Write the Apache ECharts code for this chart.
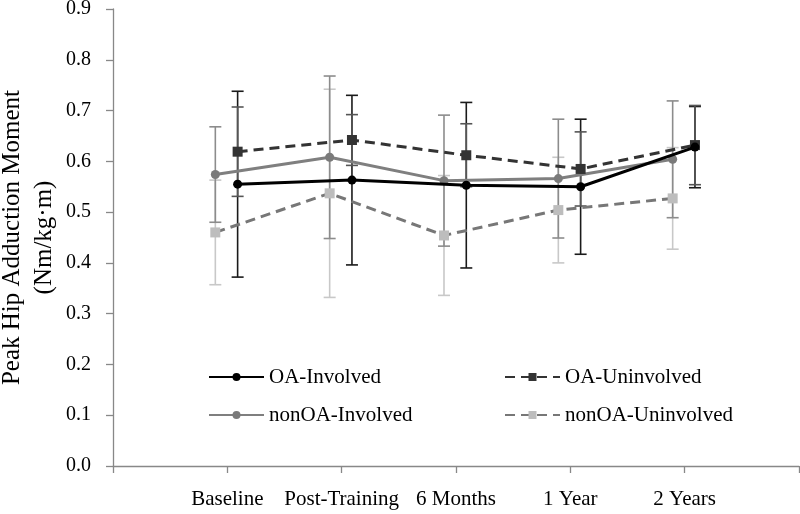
<!DOCTYPE html>
<html><head><meta charset="utf-8">
<script src="https://cdn.jsdelivr.net/npm/echarts@6/dist/echarts.min.js"></script>
<style>html,body{margin:0;padding:0;background:#fff}#c{width:800px;height:514px}</style>
</head><body><div id="c"></div>
<script>
const categories = ['Baseline', 'Post-Training', '6 Months', '1 Year', '2 Years'];
const oaInvolved = [0.555, 0.563, 0.553, 0.550, 0.628];
const oaInvolvedSD = [0.183, 0.167, 0.163, 0.133, 0.080];
const oaUninvolved = [0.619, 0.642, 0.612, 0.585, 0.632];
const oaUninvolvedSD = [0.088, 0.050, 0.062, 0.073, 0.078];
const nonOaInvolved = [0.574, 0.608, 0.562, 0.566, 0.604];
const nonOaInvolvedSD = [0.094, 0.160, 0.129, 0.117, 0.115];
const nonOaUninvolved = [0.460, 0.537, 0.454, 0.504, 0.527];
const nonOaUninvolvedSD = [0.103, 0.205, 0.118, 0.104, 0.100];
const yTicks = [0, 0.1, 0.2, 0.3, 0.4, 0.5, 0.6, 0.7, 0.8, 0.9];

const FONT = 'Liberation Serif';
const OA_OFF = 0.09, NON_OFF = -0.105;

function pts(vals, off) { return vals.map((v, i) => [i + 1 + off, v]); }
function errs(vals, sd, off) { return vals.map((v, i) => [i + 1 + off, v - sd[i], v + sd[i]]); }
function errRender(color) {
  return function (params, api) {
    const x = api.value(0), lo = api.value(1), hi = api.value(2);
    const a = api.coord([x, lo]), b = api.coord([x, hi]);
    const hw = 6;
    const st = { stroke: color, lineWidth: 1.6 };
    return { type: 'group', children: [
      { type: 'line', shape: { x1: a[0], y1: a[1], x2: b[0], y2: b[1] }, style: st },
      { type: 'line', shape: { x1: a[0] - hw, y1: a[1], x2: a[0] + hw, y2: a[1] }, style: st },
      { type: 'line', shape: { x1: b[0] - hw, y1: b[1], x2: b[0] + hw, y2: b[1] }, style: st }
    ]};
  };
}
function errSeries(name, vals, sd, off, color) {
  return { name: name, type: 'custom', renderItem: errRender(color), data: errs(vals, sd, off),
    encode: { x: 0, y: [1, 2] }, z: 1, silent: true };
}

const chart = echarts.init(document.getElementById('c'));
const legendText = { fontFamily: FONT, fontSize: 21, color: '#000', lineHeight: 21 };
chart.setOption({
  animation: false,
  backgroundColor: '#fff',
  grid: { left: 113, right: 1, top: 9, bottom: 48, containLabel: false, outerBoundsMode: 'none' },
  xAxis: {
    type: 'value', min: 0, max: 6, interval: 1,
    axisLine: { lineStyle: { color: '#888', width: 1.3 } },
    axisTick: { show: true, length: 7, lineStyle: { color: '#888', width: 1.3 } },
    splitLine: { show: false },
    axisLabel: { margin: 23, fontFamily: FONT, fontSize: 21, color: '#000',
      formatter: v => (v >= 1 && v <= categories.length ? categories[v - 1] : '') }
  },
  yAxis: {
    type: 'value', min: yTicks[0], max: yTicks[yTicks.length - 1], interval: 0.1,
    name: 'Peak Hip Adduction Moment\n(Nm/kg·m)', nameLocation: 'middle', nameGap: 53,
    nameMoveOverlap: false,
    nameTextStyle: { fontFamily: FONT, fontSize: 25, lineHeight: 32, color: '#000' },
    axisLine: { show: true, lineStyle: { color: '#888', width: 1.3 } },
    axisTick: { show: true, length: 7, lineStyle: { color: '#888', width: 1.3 } },
    splitLine: { show: false },
    axisLabel: { margin: 22, fontFamily: FONT, fontSize: 20, color: '#000', formatter: v => v.toFixed(1) }
  },
  legend: [
    { data: ['OA-Involved', 'nonOA-Involved'], orient: 'vertical', left: 203, top: 361.5,
      itemWidth: 55, itemHeight: 10, itemGap: 17, textStyle: legendText },
    { data: ['OA-Uninvolved', 'nonOA-Uninvolved'], orient: 'vertical', left: 499, top: 361.5,
      itemWidth: 55, itemHeight: 10, itemGap: 17, textStyle: legendText }
  ],
  series: [
    errSeries('nonOA-Uninvolved SD', nonOaUninvolved, nonOaUninvolvedSD, NON_OFF, '#c8c8c8'),
    errSeries('nonOA-Involved SD', nonOaInvolved, nonOaInvolvedSD, NON_OFF, '#8c8c8c'),
    errSeries('OA-Involved SD', oaInvolved, oaInvolvedSD, OA_OFF, '#1a1a1a'),
    errSeries('OA-Uninvolved SD', oaUninvolved, oaUninvolvedSD, OA_OFF, '#555'),
    { name: 'nonOA-Uninvolved', type: 'line', data: pts(nonOaUninvolved, NON_OFF), z: 2,
      symbol: 'rect', symbolSize: 10, itemStyle: { color: '#bdbdbd' },
      lineStyle: { color: '#777', width: 3, type: [10, 6] } },
    { name: 'nonOA-Involved', type: 'line', data: pts(nonOaInvolved, NON_OFF), z: 3,
      symbol: 'circle', symbolSize: 9, itemStyle: { color: '#7a7a7a' },
      lineStyle: { color: '#7f7f7f', width: 3 } },
    { name: 'OA-Uninvolved', type: 'line', data: pts(oaUninvolved, OA_OFF), z: 4,
      symbol: 'rect', symbolSize: 10, itemStyle: { color: '#333' },
      lineStyle: { color: '#333', width: 3, type: [10, 6] } },
    { name: 'OA-Involved', type: 'line', data: pts(oaInvolved, OA_OFF), z: 5,
      symbol: 'circle', symbolSize: 9, itemStyle: { color: '#000' },
      lineStyle: { color: '#000', width: 3 } }
  ]
});
</script></body></html>
